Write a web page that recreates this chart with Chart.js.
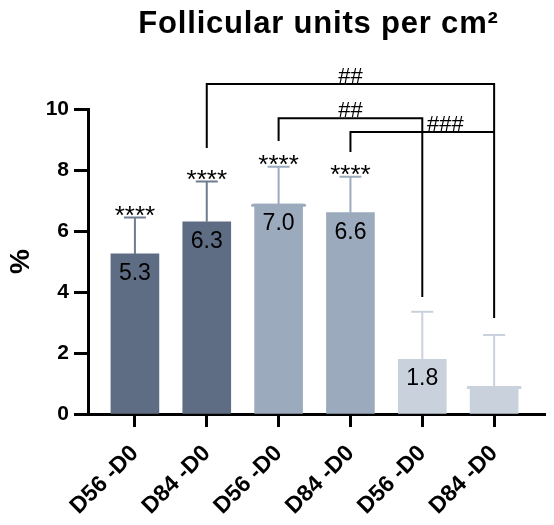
<!DOCTYPE html>
<html lang="en">
<head>
    <meta charset="UTF-8">
    <title>Follicular units per cm²</title>
    <script src="https://cdn.jsdelivr.net/npm/chart.js"></script>
    <style>
        html, body { margin: 0; padding: 0; background: #fff; }
        #wrap { width: 554px; height: 525px; }
    </style>
</head>
<body>
<div id="wrap"><canvas id="chart"></canvas></div>
<script>
// data
const categories = ['D56 -D0', 'D84 -D0', 'D56 -D0', 'D84 -D0', 'D56 -D0', 'D84 -D0'];
const means = [5.25, 6.3, 6.88, 6.6, 1.79, 0.9];
const errTop = [6.44, 7.62, 8.11, 7.78, 3.35, 2.59];
const valueLabels = ['5.3', '6.3', '7.0', '6.6', '1.8', ''];
const stars = ['****', '****', '****', '****', '', ''];
const yTicks = [0, 2, 4, 6, 8, 10];

// brackets: from bar, to bar, height, leg ends, label and its x (in bar units)
const brackets = [
    { from: 1, to: 5, y: 10.82, leftEnd: 8.72, rightEnd: 3.15, label: '##', labelX: 3.0 },
    { from: 2, to: 4, y: 9.70, leftEnd: 8.95, rightEnd: 3.84, label: '##', labelX: 3.0 },
    { from: 3, to: 5, y: 9.25, leftEnd: 8.59, rightEnd: 9.25, label: '###', labelX: 4.32 }
];

const barColors = ['#5e6d83', '#5e6d83', '#9baabc', '#9baabc', '#c9d1dc', '#c9d1dc'];
const errColors = ['#6e7c91', '#6e7c91', '#9baabc', '#9baabc', '#c9d1dc', '#c9d1dc'];
const topCaps = [false, false, true, false, false, true];

const FONT = 'Arial, "Liberation Sans", sans-serif';

// error bars, labels, stars, brackets
const annotations = {
    id: 'annotations',
    afterDatasetsDraw(chart) {
        const ctx = chart.ctx;
        const y = chart.scales.y;
        const bars = chart.getDatasetMeta(0).data;
        ctx.save();

        bars.forEach((bar, i) => {
            const top = y.getPixelForValue(means[i]);
            if (topCaps[i]) {
                ctx.strokeStyle = barColors[i];
                ctx.lineWidth = 3;
                ctx.lineCap = 'round';
                ctx.beginPath();
                ctx.moveTo(bar.x - bar.width / 2 - 2, top + 1);
                ctx.lineTo(bar.x + bar.width / 2 + 2, top + 1);
                ctx.stroke();
            }
            // error bar (upper only)
            const e = y.getPixelForValue(errTop[i]);
            ctx.strokeStyle = errColors[i];
            ctx.lineWidth = 2;
            ctx.lineCap = 'butt';
            ctx.beginPath();
            ctx.moveTo(bar.x, top);
            ctx.lineTo(bar.x, e);
            ctx.moveTo(bar.x - 11, e);
            ctx.lineTo(bar.x + 11, e);
            ctx.stroke();

            ctx.fillStyle = '#000';
            ctx.textAlign = 'center';
            ctx.textBaseline = 'alphabetic';
            if (valueLabels[i]) {
                ctx.font = '23px ' + FONT;
                ctx.fillText(valueLabels[i], bar.x, top + 26);
            }
            if (stars[i]) {
                ctx.font = '26px ' + FONT;
                ctx.fillText(stars[i], bar.x, e + 6);
            }
        });

        ctx.strokeStyle = '#000';
        ctx.lineWidth = 2;
        ctx.lineCap = 'butt';
        ctx.font = '22px ' + FONT;
        ctx.fillStyle = '#000';
        ctx.textAlign = 'center';
        const x = chart.scales.x;
        brackets.forEach(b => {
            const x1 = x.getPixelForValue(b.from);
            const x2 = x.getPixelForValue(b.to);
            const yy = y.getPixelForValue(b.y);
            ctx.beginPath();
            ctx.moveTo(x1, y.getPixelForValue(b.leftEnd));
            ctx.lineTo(x1, yy);
            ctx.lineTo(x2, yy);
            ctx.lineTo(x2, y.getPixelForValue(b.rightEnd));
            ctx.stroke();
            ctx.fillText(b.label, x.getPixelForValue(b.labelX), yy - 1);
        });

        // title and y axis title
        const area = chart.chartArea;
        ctx.font = 'bold 31px ' + FONT;
        ctx.letterSpacing = '0.8px';
        ctx.fillText('Follicular units per cm²', (area.left + area.right) / 2 + 2, 33);
        ctx.letterSpacing = '0px';
        ctx.textBaseline = 'middle';
        ctx.translate(21, (area.top + area.bottom) / 2);
        ctx.rotate(-Math.PI / 2);
        ctx.font = 'bold 28px ' + FONT;
        ctx.fillText('%', 0, 0);
        ctx.restore();
    }
};

new Chart(document.getElementById('chart'), {
    type: 'bar',
    data: {
        datasets: [{
            data: means.map((v, i) => ({ x: i, y: v })),
            backgroundColor: barColors,
            barThickness: 48
        }]
    },
    options: {
        responsive: true,
        maintainAspectRatio: false,
        animation: false,
        layout: { padding: { top: 109, right: 9, left: 0, bottom: 0 } },
        plugins: {
            legend: { display: false },
            tooltip: { enabled: false }
        },
        scales: {
            x: {
                type: 'linear',
                offset: false,
                min: -0.653,
                max: 5.708,
                afterFit: s => { s.height = 111; },
                afterBuildTicks: s => { s.ticks = categories.map((c, i) => ({ value: i })); },
                grid: { offset: false, drawOnChartArea: false, drawTicks: true, tickLength: 13, tickWidth: 3, tickColor: '#000' },
                border: { display: true, width: 3, color: '#000' },
                ticks: {
                    autoSkip: false,
                    minRotation: 45,
                    maxRotation: 45,
                    padding: 13,
                    color: '#000',
                    font: { family: FONT, size: 23, weight: 'bold' },
                    callback: v => categories[v]
                }
            },
            y: {
                min: 0,
                max: 10,
                afterFit: s => { s.width = 88; },
                afterBuildTicks: s => { s.ticks = yTicks.map(v => ({ value: v })); },
                grid: { drawOnChartArea: false, drawTicks: true, tickLength: 14, tickWidth: 3, tickColor: '#000' },
                border: { display: true, width: 3, color: '#000' },
                ticks: {
                    padding: 5,
                    color: '#000',
                    font: { family: FONT, size: 21, weight: 'bold' }
                }
            }
        }
    },
    plugins: [annotations]
});
</script>
</body>
</html>
